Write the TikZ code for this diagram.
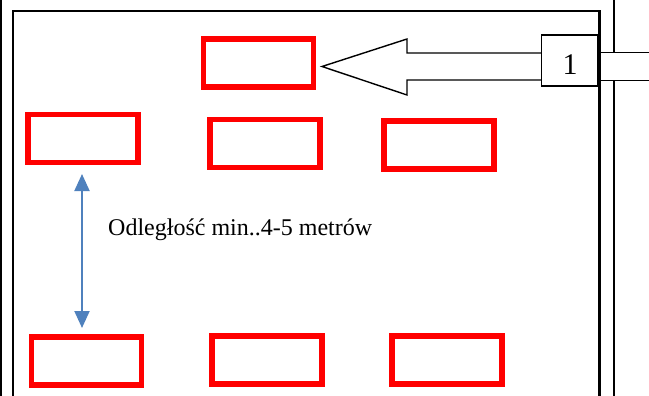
\documentclass[tikz,border=0pt]{standalone}
\usepackage{fontspec}
\setmainfont{Liberation Serif}
\usetikzlibrary{arrows.meta}
\definecolor{arrowblue}{HTML}{4F81BD}
\tikzset{
  redbox/.style={draw=red, line width=5.5pt, minimum width=110pt, minimum height=48pt, inner sep=0pt},
  frameline/.style={line width=2.6pt, line cap=rect},
  thinline/.style={line width=1.4pt},
  numbox/.style={draw, thinline, fill=white, minimum width=56pt, minimum height=51pt, inner sep=0pt},
  dist/.style={draw=arrowblue, line width=2pt, {Triangle[length=17pt,width=15pt]}-{Triangle[length=17pt,width=15pt]}},
}
\begin{document}
\begin{tikzpicture}[x=1pt,y=-1pt]
\useasboundingbox (0,0) rectangle (649,396);
% outer walls
\draw[thinline] (1,0) -- (1,396);
\draw[frameline] (13,400) -- (13,11) -- (599.5,11) -- (599.5,400);
\draw[thinline] (614,0) -- (614,52.5);
\draw[thinline] (614,80.5) -- (614,396);
\draw[thinline] (599,52.5) -- (649,52.5);
\draw[thinline] (599,80.5) -- (649,80.5);
% box 1
\node[numbox] (b1) at (569.5,60.5) {};
\node[font=\fontsize{30}{36}\selectfont, inner sep=0pt] (n1) at (570,64.5) {1};
% big arrow
\coordinate (tip) at (322,66.5);
\draw[thinline, line join=miter] (b1.west |- 0,53) -- (407,53) -- (407,39) -- (tip) -- (407,95) -- (407,80) -- (b1.west |- 0,80);
% red boxes
\node[redbox] (t1) at (258.5,63) {};
\node[redbox] (a1) at (83,138.5) {};
\node[redbox] (a2) at (265,143.5) {};
\node[redbox] (a3) at (439,145) {};
\node[redbox] (c1) at (86.5,361) {};
\node[redbox] (c2) at (267,360) {};
\node[redbox] (c3) at (447,360) {};
% distance arrow
\coordinate (dtop) at (82,174);
\coordinate (dbot) at (82,328);
\draw[dist] (dtop) -- (dbot);
\node[anchor=base west, inner sep=0pt, font=\fontsize{24}{28}\selectfont] (lbl) at (108,235) {Odległość min..4-5 metrów};
\end{tikzpicture}
\end{document}
